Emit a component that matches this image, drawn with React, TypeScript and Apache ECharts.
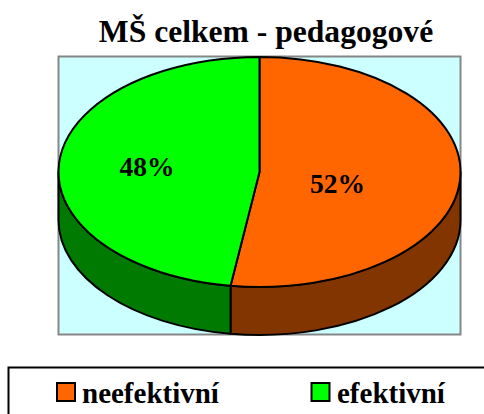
import React, { useEffect, useRef } from "react";
import * as echarts from "echarts";

const titleText = "MŠ celkem - pedagogové";
const categories = ["neefektivní", "efektivní"];
const values = [52.3, 47.7];
const labels = ["52%", "48%"];
const topColors = ["#FF6600", "#00FF00"];
const sideColors = ["#833500", "#007A00"];

const CX = 259.5, CY = 172, RX = 201, RY = 115, DEPTH = 48;
const LABEL_POS = [[337.5, 183], [147, 166]];
const total = values.reduce((a, b) => a + b, 0);

function pt(deg: number, dy = 0) {
  const r = (deg * Math.PI) / 180;
  return [CX + RX * Math.sin(r), CY - RY * Math.cos(r) + dy];
}
function arcTo(toDeg: number, sweepCw: boolean, dy = 0) {
  const p = pt(toDeg, dy);
  return `A${RX} ${RY} 0 ${0} ${sweepCw ? 1 : 0} ${p[0]} ${p[1]}`;
}
function arcPath(a0: number, a1: number, dy = 0) {
  let s = "";
  const n = Math.ceil((a1 - a0) / 60);
  for (let i = 1; i <= n; i++) s += arcTo(a0 + ((a1 - a0) * i) / n, true, dy);
  return s;
}
function arcBack(a1: number, a0: number, dy = 0) {
  let s = "";
  const n = Math.ceil((a1 - a0) / 60);
  for (let i = n - 1; i >= 0; i--) s += arcTo(a0 + ((a1 - a0) * i) / n, false, dy);
  return s;
}

export default function App() {
  const ref = useRef<HTMLDivElement>(null);
  useEffect(() => {
    document.body.style.margin = "0";
    const chart = echarts.init(ref.current!, undefined, { renderer: "svg" });
    const stroke = { stroke: "#000", lineWidth: 2, lineJoin: "round" };
    chart.setOption({
      animation: false,
      backgroundColor: "#fff",
      title: {
        text: titleText,
        left: 261,
        top: 10,
        textAlign: "center",
        textStyle: { fontFamily: "Liberation Serif", fontWeight: "bold", fontSize: 31.6, color: "#000" },
      },
      legend: { show: false },
      graphic: [
        { type: "rect", silent: true, z: 0, shape: { x: 58.5, y: 56.5, width: 402, height: 278 }, style: { fill: "#CCFFFF", stroke: "#868686", lineWidth: 2 } },
        { type: "rect", silent: true, z: 0, shape: { x: 8.5, y: 367.5, width: 500, height: 80 }, style: { fill: "#fff", stroke: "#000", lineWidth: 2 } },
        { type: "rect", silent: true, z: 1, shape: { x: 57, y: 383, width: 18, height: 18 }, style: { fill: topColors[0], stroke: "#000", lineWidth: 2 } },
        { type: "text", silent: true, z: 1, x: 82, y: 392.5, style: { text: categories[0], font: "bold 29px 'Liberation Serif'", fill: "#000", textAlign: "left", textVerticalAlign: "middle" } },
        { type: "rect", silent: true, z: 1, shape: { x: 311.5, y: 383, width: 18, height: 18 }, style: { fill: topColors[1], stroke: "#000", lineWidth: 2 } },
        { type: "text", silent: true, z: 1, x: 337, y: 392.5, style: { text: categories[1], font: "bold 29px 'Liberation Serif'", fill: "#000", textAlign: "left", textVerticalAlign: "middle" } },
      ],
      series: [
        {
          type: "custom",
          coordinateSystem: "none",
          z: 5,
          data: values.map((v, i) => ({ value: v, name: categories[i] })),
          renderItem: (params: any, api: any) => {
            const i = params.dataIndex;
            const before = values.slice(0, i).reduce((a, b) => a + b, 0);
            const a0 = (before / total) * 360;
            const a1 = ((before + api.value(0)) / total) * 360;
            const children: any[] = [];
            const s0 = Math.max(a0, 90);
            const s1 = Math.min(a1, 270);
            if (s1 > s0) {
              const p0 = pt(s0);
              const d = `M${p0[0]} ${p0[1]}` + arcPath(s0, s1) + `L${pt(s1, DEPTH).join(" ")}` + arcBack(s1, s0, DEPTH) + "Z";
              children.push({ type: "path", shape: { pathData: d }, style: { fill: sideColors[i], ...stroke } });
            }
            const start = pt(a0);
            const top = `M${CX} ${CY}L${start[0]} ${start[1]}` + arcPath(a0, a1) + "Z";
            children.push({ type: "path", shape: { pathData: top }, style: { fill: topColors[i], ...stroke } });
            children.push({
              type: "text",
              x: LABEL_POS[i][0],
              y: LABEL_POS[i][1],
              style: { text: labels[i], font: "bold 27.5px 'Liberation Serif'", fill: "#000", textAlign: "center", textVerticalAlign: "middle" },
            });
            return { type: "group", children };
          },
        },
      ],
    });
    return () => chart.dispose();
  }, []);
  return <div ref={ref} style={{ position: "fixed", left: 0, top: 0, width: 484, height: 414 }} />;
}
